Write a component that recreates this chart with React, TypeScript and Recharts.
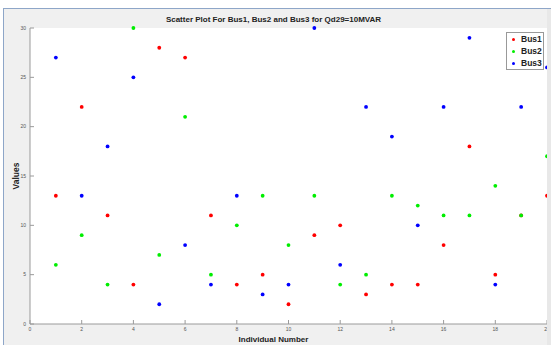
import { CartesianGrid, Legend, Scatter, ScatterChart, XAxis, YAxis } from "recharts";

const individuals = [1, 2, 3, 4, 5, 6, 7, 8, 9, 10, 11, 12, 13, 14, 15, 16, 17, 18, 19, 20];
const bus1Values = [13, 22, 11, 4, 28, 27, 11, 4, 5, 2, 9, 10, 3, 4, 4, 8, 18, 5, 11, 13];
const bus2Values = [6, 9, 4, 30, 7, 21, 5, 10, 13, 8, 13, 4, 5, 13, 12, 11, 11, 14, 11, 17];
const bus3Values = [27, 13, 18, 25, 2, 8, 4, 13, 3, 4, 30, 6, 22, 19, 10, 22, 29, 4, 22, 26];
const xTicks = [0, 2, 4, 6, 8, 10, 12, 14, 16, 18, 20];
const yTicks = [0, 5, 10, 15, 20, 25, 30];

const FONT = '"Liberation Sans", Arial, sans-serif';
const AXIS_COLOR = "#9a9a9a";
const FIG_BG = "#f0f0f0";

const series = [
  { name: "Bus1", color: "#ff0000", values: bus1Values },
  { name: "Bus2", color: "#00ee00", values: bus2Values },
  { name: "Bus3", color: "#0000ff", values: bus3Values },
];

function toPoints(values: number[]) {
  return individuals.map((x, i) => ({ x, y: values[i] }));
}

function dotShape(color: string) {
  return (props: { cx?: number; cy?: number }) => <circle cx={props.cx} cy={props.cy} r={1.9} fill={color} />;
}

function BusLegend() {
  return (
    <div
      style={{
        border: "1px solid #999",
        background: "#fff",
        width: 38,
        boxSizing: "border-box",
        fontFamily: FONT,
        fontSize: 8.5,
        fontWeight: "bold",
        color: "#222",
      }}
    >
      {series.map((s) => (
        <div key={s.name} style={{ display: "flex", alignItems: "center", height: 12, lineHeight: "12px" }}>
          <span
            style={{
              display: "inline-block",
              width: 3,
              height: 3,
              borderRadius: "50%",
              background: s.color,
              marginLeft: 5,
              marginRight: 6,
            }}
          />
          {s.name}
        </div>
      ))}
    </div>
  );
}

export default function App() {
  return (
    <div style={{ position: "absolute", left: 0, top: 0, width: 551, height: 345, background: "#fff", fontFamily: FONT }}>
      <div
        style={{
          position: "absolute",
          left: 3,
          top: 8,
          width: 548,
          height: 337,
          background: FIG_BG,
          borderLeft: "1px solid #8ea6c8",
          borderTop: "1px solid #8ea6c8",
          boxSizing: "border-box",
        }}
      />
      <div
        style={{
          position: "absolute",
          left: 0,
          width: 547,
          top: 14,
          textAlign: "center",
          fontSize: 8,
          fontWeight: "bold",
          color: "#222",
          lineHeight: "12px",
        }}
      >
        Scatter Plot For Bus1, Bus2 and Bus3 for Qd29=10MVAR
      </div>
      <div style={{ position: "absolute", left: 0, top: 0 }}>
        <ScatterChart width={551} height={345} margin={{ top: 28, right: 4, bottom: 0, left: 0 }}>
          <CartesianGrid horizontal={false} vertical={false} fill="#ffffff" />
          <XAxis
            type="number"
            dataKey="x"
            domain={[0, 20]}
            ticks={xTicks}
            interval={0}
            height={21}
            tickSize={-4}
            tickMargin={7}
            tick={{ fontSize: 5, fill: "#555", fontFamily: FONT }}
            axisLine={{ stroke: AXIS_COLOR }}
            tickLine={{ stroke: AXIS_COLOR }}
            label={{
              value: "Individual Number",
              position: "center",
              dx: -15,
              dy: 5,
              style: { fontSize: 8, fontWeight: "bold", fill: "#222", fontFamily: FONT },
            }}
          />
          <YAxis
            type="number"
            dataKey="y"
            domain={[0, 30]}
            ticks={yTicks}
            interval={0}
            width={30}
            tickSize={-4}
            tickMargin={8}
            tick={{ fontSize: 5, fill: "#555", fontFamily: FONT }}
            axisLine={{ stroke: AXIS_COLOR }}
            tickLine={{ stroke: AXIS_COLOR }}
            label={{
              value: "Values",
              angle: -90,
              position: "center",
              dx: 1,
              style: { fontSize: 8.5, fontWeight: "bold", fill: "#222", fontFamily: FONT },
            }}
          />
          <Legend
            layout="vertical"
            align="center"
            verticalAlign="middle"
            content={() => <BusLegend />}
            wrapperStyle={{ left: 506, top: 32, width: 38 }}
          />
          {series.map((s) => (
            <Scatter
              key={s.name}
              name={s.name}
              data={toPoints(s.values)}
              fill={s.color}
              shape={dotShape(s.color)}
              isAnimationActive={false}
            />
          ))}
        </ScatterChart>
      </div>
      <div style={{ position: "absolute", left: 547, top: 9, width: 4, height: 336, background: "#e8e8e8" }} />
    </div>
  );
}
